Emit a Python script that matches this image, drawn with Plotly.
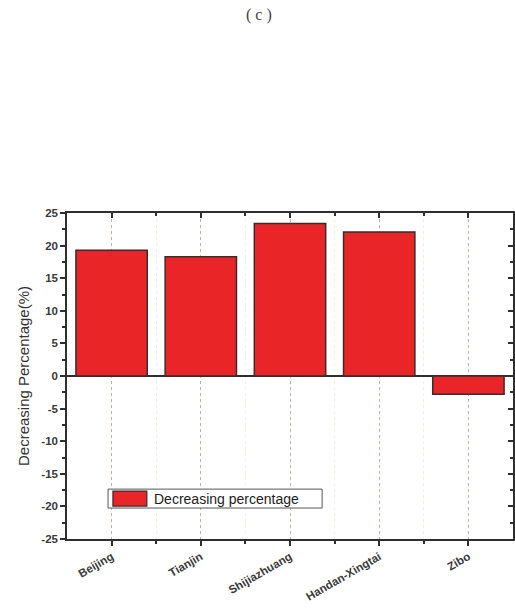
import plotly.graph_objects as go

# City-level decrease in percentage
cities = ["Beijing", "Tianjin", "Shijiazhuang", "Handan-Xingtai", "Zibo"]
decrease_pct = [19.3, 18.3, 23.4, 22.1, -2.8]
y_ticks = [25, 20, 15, 10, 5, 0, -5, -10, -15, -20, -25]
legend_label = "Decreasing percentage"

axis_color = "#2f2f2f"
bar_color = "#ea2528"
font_main = "Liberation Sans, Arial, sans-serif"
tick_font = dict(size=11.5, color="#3a3a3a", weight="bold")

fig = go.Figure()
fig.add_trace(go.Bar(
    x=list(range(len(cities))),
    y=decrease_pct,
    width=0.8,
    marker=dict(color=bar_color, line=dict(color="#3b2b2b", width=1.5)),
    showlegend=False,
))
# invisible trace carrying the mirrored top/right axes
fig.add_trace(go.Scatter(x=[0], y=[0], xaxis="x2", yaxis="y2",
                         mode="markers", marker=dict(opacity=0),
                         showlegend=False, hoverinfo="skip"))

fig.update_layout(
    width=515, height=614,
    margin=dict(l=67, r=2, t=213, b=75),
    paper_bgcolor="white", plot_bgcolor="white",
    font=dict(family=font_main, color="#333333"),
    xaxis=dict(
        range=[-0.5, 4.5],
        tickmode="array",
        tickvals=list(range(len(cities))),
        ticktext=cities,
        tickangle=-30,
        tickfont=tick_font,
        ticks="outside", ticklen=5, tickwidth=1.5, tickcolor=axis_color,
        showline=True, linecolor=axis_color, linewidth=1.5,
        showgrid=True, gridcolor="#c2b3a0", griddash="dot", gridwidth=1,
        minor=dict(tickvals=[0.5, 1.5, 2.5, 3.5], ticks="outside",
                   ticklen=3, tickwidth=1.5, tickcolor=axis_color,
                   showgrid=True, gridcolor="#f3efdc", gridwidth=1),
        zeroline=False,
    ),
    yaxis=dict(
        range=[-25, 25],
        tickmode="array",
        tickvals=y_ticks,
        ticktext=[str(v) for v in y_ticks],
        tickfont=tick_font,
        ticks="outside", ticklen=5, tickwidth=1.5, tickcolor=axis_color,
        minor=dict(dtick=2.5, ticks="outside", ticklen=3,
                   tickwidth=1.5, tickcolor=axis_color),
        showline=True, linecolor=axis_color, linewidth=1.5,
        showgrid=False,
        zeroline=True, zerolinecolor=axis_color, zerolinewidth=1.5,
        title=dict(text="Decreasing Percentage(%)",
                   font=dict(size=15, color="#333333"), standoff=8),
    ),
    xaxis2=dict(
        overlaying="x", side="top", range=[-0.5, 4.5],
        tickmode="array", tickvals=list(range(len(cities))),
        showticklabels=False, ticks="inside", ticklen=5, tickwidth=1.5,
        tickcolor=axis_color,
        minor=dict(tickvals=[0.5, 1.5, 2.5, 3.5], ticks="inside",
                   ticklen=3, tickwidth=1.5, tickcolor=axis_color),
        showline=True, linecolor=axis_color, linewidth=1.5,
        showgrid=False, zeroline=False,
    ),
    yaxis2=dict(
        overlaying="y", side="right", range=[-25, 25],
        tickmode="array", tickvals=y_ticks,
        showticklabels=False, ticks="inside", ticklen=5, tickwidth=1.5,
        tickcolor=axis_color,
        minor=dict(dtick=2.5, ticks="inside", ticklen=3,
                   tickwidth=1.5, tickcolor=axis_color),
        showline=True, linecolor=axis_color, linewidth=1.5,
        showgrid=False, zeroline=False,
    ),
)

# Legend box drawn in plot-area coordinates
fig.add_shape(type="rect", xref="paper", yref="paper",
              x0=0.092, x1=0.572, y0=0.095, y1=0.153,
              line=dict(color="#555555", width=1), fillcolor="white")
fig.add_shape(type="rect", xref="paper", yref="paper",
              x0=0.103, x1=0.179, y0=0.101, y1=0.147,
              line=dict(color="#3b2b2b", width=1.2), fillcolor=bar_color)
fig.add_annotation(xref="paper", yref="paper", x=0.19, y=0.124,
                   text=legend_label, showarrow=False, xanchor="left",
                   yanchor="middle", font=dict(size=14, color="#222222"))

# Panel label
fig.add_annotation(xref="paper", yref="paper", x=0.43, y=1.0,
                   yshift=198, text="( c )", showarrow=False,
                   xanchor="center", yanchor="middle",
                   font=dict(family="Liberation Serif, serif", size=16,
                             color="#444444"))

fig.write_html("out.html")
